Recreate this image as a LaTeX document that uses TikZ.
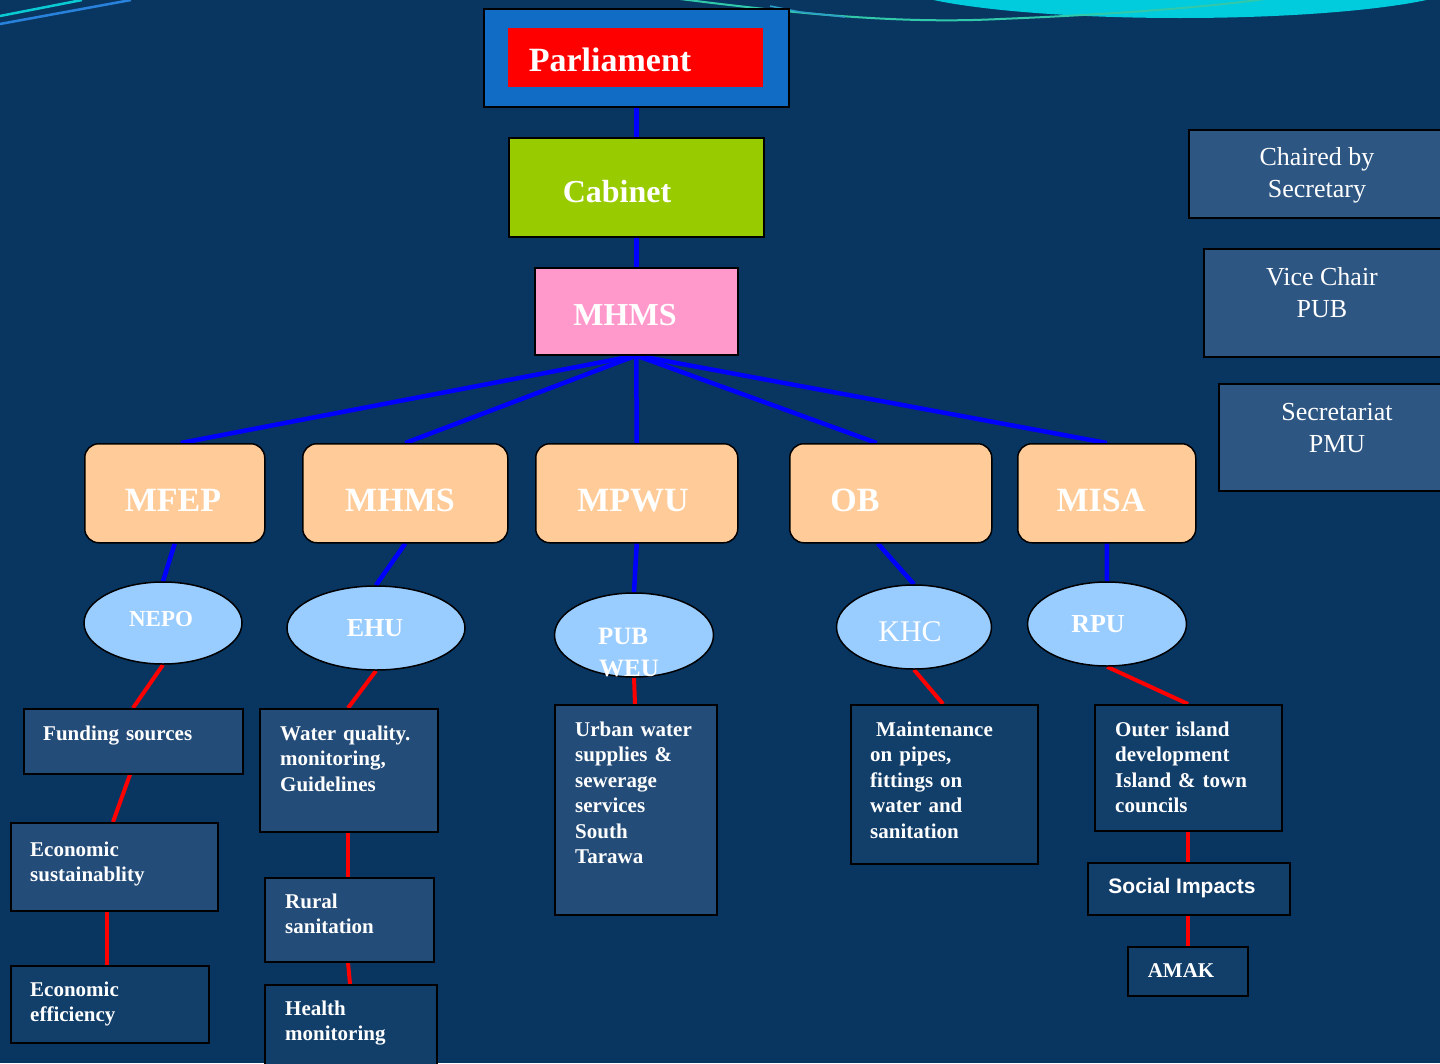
\documentclass[tikz,border=0pt]{standalone}
\usepackage{fontspec}
\setmainfont{Liberation Serif}
\newfontfamily\sansf{Liberation Sans}
\usetikzlibrary{calc,shapes.geometric}
\pgfdeclarelayer{bg}
\pgfsetlayers{bg,main}
\definecolor{bgc}{RGB}{8,54,97}
\definecolor{parlblue}{RGB}{16,108,196}
\definecolor{cabgreen}{RGB}{153,204,0}
\definecolor{pinkc}{RGB}{255,153,204}
\definecolor{peach}{RGB}{255,204,153}
\definecolor{ellc}{RGB}{153,204,255}
\definecolor{gridc}{RGB}{36,76,120}
\definecolor{rgridc}{RGB}{46,86,130}
\definecolor{dotc}{RGB}{18,62,106}
\definecolor{cyanc}{RGB}{0,204,221}
\definecolor{tealc}{RGB}{50,200,170}
\definecolor{lblue}{RGB}{40,130,220}
\newcommand\myfs[2]{\fontsize{#1}{#2}\selectfont}
\begin{document}
\begin{tikzpicture}[x=1pt,y=-1pt,
  box/.style={draw=black, line width=1.5pt, inner sep=0pt, anchor=north west},
  wh/.style 2 args={minimum width=#1pt, minimum height=#2pt},
  gridbox/.style={box, fill=gridc},
  rgridbox/.style={box, fill=rgridc},
  dotbox/.style={box, fill=dotc},
  peachbox/.style={box, fill=peach, rounded corners=14pt},
  ell/.style={ellipse, draw=black, line width=1.5pt, fill=ellc, inner sep=0pt},
  big/.style={text=white, inner sep=0pt, anchor=base, font=\bfseries\myfs{34}{40}},
  elltxt/.style={text=white, inner sep=0pt, anchor=base, font=\bfseries\myfs{25}{32}},
  small/.style={text=white, inner sep=0pt, anchor=base west, align=left, text width=220pt, font=\bfseries\myfs{21}{25.5}},
  rtxt/.style={text=white, inner sep=0pt, anchor=base, align=center, font=\myfs{26}{32}},
  bl/.style={draw=blue, line width=4.5pt},
  rl/.style={draw=red, line width=4pt}
]
\useasboundingbox (0,0) rectangle (1440,1063);
\clip (0,0) rectangle (1440,1063);

% top hierarchy
\node[box, fill=parlblue, wh={305}{98}] (parl) at (483,8) {};
\node[anchor=north west, fill=red, inner sep=0pt, wh={255}{59}] (parlin) at (508,28) {};
\node[big] (tparl) at (610,71) {Parliament};
\node[box, fill=cabgreen, wh={255}{99}] (cab) at (508,137) {};
\node[big, font=\bfseries\myfs{32}{38}] (tcab) at (617,202) {Cabinet};
\node[box, fill=pinkc, wh={203}{87}] (mh1) at (534,267) {};
\node[big, font=\bfseries\myfs{32}{38}] (tmh1) at (625,325) {MHMS};

% second level
\node[peachbox, wh={180}{99}] (mfep) at (84,443) {};
\node[peachbox, wh={205}{99}] (mh2) at (302,443) {};
\node[peachbox, wh={202}{99}] (mpwu) at (535,443) {};
\node[peachbox, wh={202}{99}] (ob) at (789,443) {};
\node[peachbox, wh={178}{99}] (misa) at (1017,443) {};
\node[big] (tmfep) at (173,511) {MFEP};
\node[big] (tmh2) at (400,511) {MHMS};
\node[big] (tmpwu) at (633,511) {MPWU};
\node[big] (tob) at (855,511) {OB};
\node[big] (tmisa) at (1101,511) {MISA};

% ellipses
\node[ell, wh={158}{82}] (nepo) at (163,623) {};
\node[ell, wh={178}{84}] (ehu) at (376,628) {};
\node[ell, wh={159}{84}] (pub) at (634,635) {};
\node[ell, wh={155}{84}] (khc) at (914,627) {};
\node[ell, wh={159}{84}] (rpu) at (1107,624) {};
\node[elltxt, font=\bfseries\myfs{23}{30}] (tnepo) at (161,626) {NEPO};
\node[elltxt, font=\bfseries\myfs{26}{32}] (tehu) at (375,636) {EHU};
\node[elltxt] (tpub) at (623,644) {PUB};
\node[elltxt] (tweu) at (629,676) {WEU};
\node[elltxt, font=\myfs{30}{36}] (tkhc) at (910,641) {KHC};
\node[elltxt, font=\bfseries\myfs{26}{32}] (trpu) at (1098,632) {RPU};

% text boxes
\node[gridbox, wh={219}{65}] (fund) at (23,708) {};
\node[small] (tfund) at (43,740) {Funding sources};
\node[gridbox, wh={207}{88}] (es) at (10,822) {};
\node[small] (tes) at (30,856) {Economic\\sustainablity};
\node[dotbox, wh={198}{77}] (ee) at (10,965) {};
\node[small] (tee) at (30,996) {Economic\\efficiency};
\node[gridbox, wh={178}{123}] (wq) at (259,708) {};
\node[small] (twq) at (280,740) {Water quality.\\monitoring,\\Guidelines};
\node[gridbox, wh={169}{84}] (rural) at (264,877) {};
\node[small] (trural) at (285,908) {Rural\\sanitation};
\node[dotbox, wh={172}{100}] (health) at (264,984) {};
\node[small] (thealth) at (285,1015) {Health\\monitoring};
\node[gridbox, wh={162}{210}] (urban) at (554,704) {};
\node[small] (turban) at (575,736) {Urban water\\supplies \&\\sewerage\\services\\South\\Tarawa};
\node[dotbox, wh={187}{159}] (maint) at (850,704) {};
\node[small] (tmaint) at (870,736) {\hspace*{6pt}Maintenance\\on pipes,\\fittings on\\water and\\sanitation};
\node[dotbox, wh={187}{126}] (outer) at (1094,704) {};
\node[small] (touter) at (1115,736) {Outer island\\development\\Island \& town\\councils};
\node[dotbox, wh={202}{52}] (social) at (1087,862) {};
\node[text=white, inner sep=0pt, anchor=base, font=\sansf\bfseries\myfs{21}{25}] (tsocial) at (1182,893) {Social Impacts};
\node[dotbox, wh={120}{49}] (amak) at (1127,946) {};
\node[text=white, inner sep=0pt, anchor=base, font=\bfseries\myfs{21}{25}] (tamak) at (1181,977) {AMAK};

% right boxes
\node[rgridbox, wh={270}{88}] (chair) at (1188,129) {};
\node[rtxt] (tchair) at (1317,197) {Chaired by\\Secretary};
\node[rgridbox, wh={260}{108}] (vice) at (1203,248) {};
\node[rtxt] (tvice) at (1322,317) {Vice Chair\\PUB};
\node[rgridbox, wh={250}{107}] (secr) at (1218,383) {};
\node[rtxt] (tsecr) at (1337,452) {Secretariat\\PMU};

\begin{pgfonlayer}{bg}
\fill[bgc] (0,0) rectangle (1440,1063);
% decorations
\fill[cyanc] (1180,-20) ellipse [x radius=290, y radius=38];
\draw[tealc, line width=2pt] (680,-1) .. controls (800,14) and (900,24) .. (1000,19) .. controls (1100,15) and (1200,8) .. (1265,-1);
\draw[lblue!60!tealc, line width=1.5pt] (770,6) -- (800,12) -- (845,17);
\draw[cyanc!80!tealc, line width=2.5pt] (0,16) -- (82,0);
\draw[lblue, line width=2.5pt] (0,24) -- (131,0);
% blue connectors
\draw[bl] (parl.south) -- (cab.north);
\draw[bl] (cab.south) -- (mh1.north);
\draw[bl] (mh1.south) -- ($(mfep.north)+(6,0)$);
\draw[bl] (mh1.south) -- (mh2.north);
\draw[bl] (mh1.south) -- (mpwu.north);
\draw[bl] (mh1.south) -- ($(ob.north)+(-14,0)$);
\draw[bl] (mh1.south) -- (misa.north);
\draw[bl] (mfep.south) -- (nepo.north);
\draw[bl] (mh2.south) -- (ehu.north);
\draw[bl] (mpwu.south) -- (pub.north);
\draw[bl] ($(ob.south)+(-13,0)$) -- (khc.north);
\draw[bl] (misa.south) -- (rpu.north);
% red connectors
\draw[rl] (nepo.south) -- ($(fund.north west)+(110,0)$);
\draw[rl] ($(fund.south west)+(107,0)$) -- ($(es.north west)+(103,0)$);
\draw[rl] ($(es.south west)+(97,0)$) -- ($(ee.north west)+(97,0)$);
\draw[rl] (ehu.south) -- ($(wq.north west)+(89,0)$);
\draw[rl] ($(wq.south west)+(89,0)$) -- ($(rural.north west)+(84,0)$);
\draw[rl] ($(rural.south west)+(84,0)$) -- ($(health.north west)+(86,0)$);
\draw[rl] (pub.south) -- ($(urban.north west)+(81,0)$);
\draw[rl] (khc.south) -- ($(maint.north west)+(93,0)$);
\draw[rl] (rpu.south) -- ($(outer.north west)+(94,0)$);
\draw[rl] ($(outer.south west)+(94,0)$) -- ($(social.north west)+(101,0)$);
\draw[rl] ($(social.south west)+(101,0)$) -- ($(amak.north west)+(61,0)$);
\end{pgfonlayer}
\end{tikzpicture}
\end{document}
